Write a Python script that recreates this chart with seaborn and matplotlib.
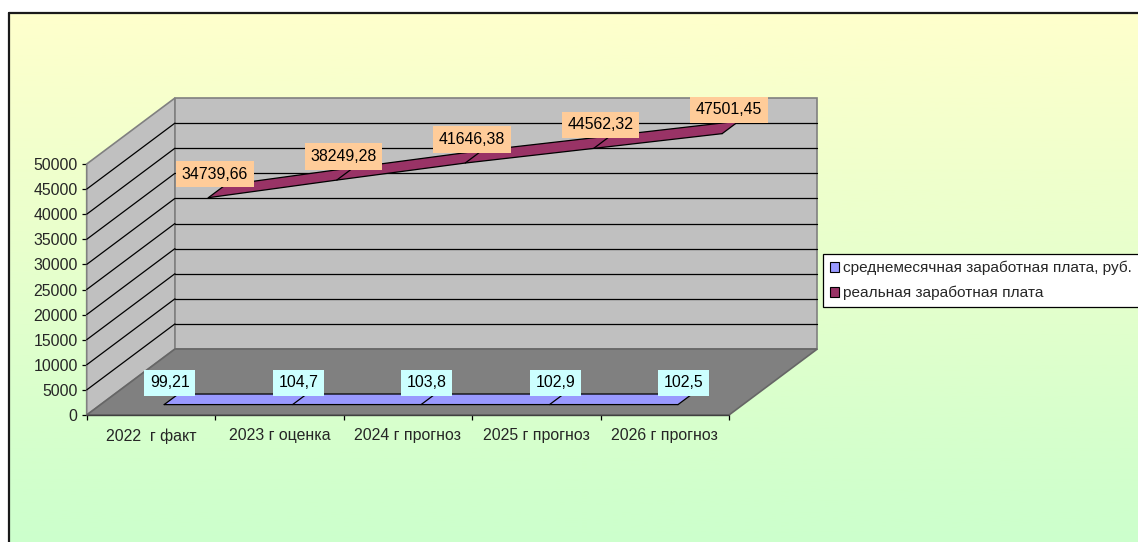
"""
Wage dynamics 2022-2026: pseudo-3D ribbon line chart (Excel look).
"""

import numpy as np
import matplotlib
matplotlib.use("Agg")
import matplotlib.pyplot as plt
import seaborn as sns
from matplotlib.patches import Polygon, Patch

# Data
categories = ['2022  г факт', '2023 г оценка', '2024 г прогноз', '2025 г прогноз', '2026 г прогноз']
avg_salary = [99.21, 104.7, 103.8, 102.9, 102.5]
real_salary = [34739.66, 38249.28, 41646.38, 44562.32, 47501.45]
series_names = ['среднемесячная заработная плата, руб.', 'реальная заработная плата']
y_ticks = [0, 5000, 10000, 15000, 20000, 25000, 30000, 35000, 40000, 45000, 50000]

sns.set_theme(style="white")
plt.rcParams['font.family'] = ['Liberation Sans', 'DejaVu Sans']
FS = 11.4

W, H = 1138, 542
fig = plt.figure(figsize=(W / 100, H / 100), dpi=100)

# background gradient + frame
bg = fig.add_axes([0, 0, 1, 1], zorder=-10)
grad = np.linspace(0, 1, 256).reshape(-1, 1)
top = np.array([1.0, 1.0, 0.8])
bot = np.array([0.8, 1.0, 0.8])
img = top[None, None, :] * (1 - grad[:, :, None]) + bot[None, None, :] * grad[:, :, None]
bg.imshow(img, extent=[10, W, 0, H - 13], aspect='auto', origin='upper')
bg.plot([9.5, 9.5], [0, H - 12.5], color='#1a1a1a', lw=1.6)
bg.plot([9, W], [H - 12.5, H - 12.5], color='#1a1a1a', lw=1.6)
bg.set_xlim(0, W)
bg.set_ylim(0, H)
bg.axis('off')

# front plane of the chart in pixel geometry
ax = fig.add_axes([86.7 / W, (H - 415) / H, 642.3 / W, 251 / H])
ax.set_facecolor('none')
for s in ax.spines.values():
    s.set_visible(False)

n = len(categories)
x = np.arange(n)
YMAX = 50000
DX = 88.3 / 128.5          # depth shift in category units
DY = 66 / 251 * YMAX       # depth shift in value units
x0, x1 = -0.5, n - 0.5

wall = '#C0C0C0'
edge = '#808080'

# side wall
ax.add_patch(Polygon([(x0, 0), (x0, YMAX), (x0 + DX, YMAX + DY), (x0 + DX, DY)],
                     closed=True, facecolor=wall, edgecolor=edge, lw=1.2, clip_on=False, zorder=1))
# back wall
ax.add_patch(Polygon([(x0 + DX, DY), (x0 + DX, YMAX + DY), (x1 + DX, YMAX + DY), (x1 + DX, DY)],
                     closed=True, facecolor=wall, edgecolor=edge, lw=1.2, clip_on=False, zorder=1))
# floor
ax.add_patch(Polygon([(x0, 0), (x1, 0), (x1 + DX, DY), (x0 + DX, DY)],
                     closed=True, facecolor='#808080', edgecolor='#666666', lw=1.2, clip_on=False, zorder=1))

# gridlines
for v in y_ticks[1:-1]:
    ax.plot([x0 + DX, x1 + DX], [v + DY, v + DY], color='black', lw=0.9, clip_on=False, zorder=2)
    ax.plot([x0, x0 + DX], [v, v + DY], color='black', lw=0.9, clip_on=False, zorder=2)

# ribbons: (values, color, depth front, depth back, label colour)
ribbons = [
    (real_salary, '#993366', 0.65, 0.84, '#FFCC99'),
    (avg_salary, '#9999FF', 0.15, 0.31, '#CCFFFF'),
]
PAD = 0.36
for vals, col, d1, d2, lab_col in ribbons:
    vals = np.array(vals)
    front = list(zip(x + d1 * DX, vals + d1 * DY))
    back = list(zip(x + d2 * DX, vals + d2 * DY))
    ax.add_patch(Polygon(front + back[::-1], closed=True, facecolor=col, edgecolor='none',
                         clip_on=False, zorder=3))
    for d in (d1, d2):
        sns.lineplot(x=x + d * DX, y=vals + d * DY, color='black', lw=0.9, ax=ax,
                     clip_on=False, zorder=4, legend=False)
    for i in range(n):
        ax.plot([x[i] + d1 * DX, x[i] + d2 * DX], [vals[i] + d1 * DY, vals[i] + d2 * DY],
                color='black', lw=0.9, clip_on=False, zorder=4)
    dm = d1 + 0.4 * (d2 - d1)
    for i in range(n):
        ax.annotate(str(vals[i]).replace('.', ','), (x[i] + dm * DX, vals[i] + d2 * DY),
                    xytext=(0, PAD * FS - 1.5), textcoords='offset points', ha='center', va='bottom',
                    fontsize=FS, color='black', zorder=6, annotation_clip=False,
                    bbox=dict(boxstyle=f'square,pad={PAD}', facecolor=lab_col, edgecolor='none'))

ax.set_xlim(x0, x1)
ax.set_ylim(0, YMAX)

# axes ticks
ax.set_yticks(y_ticks)
ax.set_yticklabels([str(t) for t in y_ticks], fontsize=FS)
ax.tick_params(axis='y', direction='out', length=3.5, width=0.9, color='black', pad=3, left=True)
ax.set_xticks(np.arange(n + 1) - 0.5)
ax.set_xticklabels([])
ax.set_xticks(x, minor=True)
ax.set_xticklabels(categories, minor=True, fontsize=FS)
ax.tick_params(axis='x', which='major', direction='out', length=3.5, width=0.9, color='black', bottom=True)
ax.tick_params(axis='x', which='minor', length=0, pad=9.5)
ax.plot([x0, x1], [0, 0], color='#404040', lw=1.0, clip_on=False, zorder=2)

# legend
handles = [Patch(facecolor='#9999FF', edgecolor='black', lw=0.8),
           Patch(facecolor='#993366', edgecolor='black', lw=0.8)]
leg = fig.legend(handles, series_names, loc='upper left', bbox_to_anchor=(823 / W, 1 - 254 / H),
                 fontsize=11.1, frameon=True, fancybox=False, framealpha=1, edgecolor='black',
                 handlelength=0.6, handleheight=0.6, handletextpad=0.25, labelspacing=0.68,
                 borderpad=0.45, borderaxespad=0)
leg.get_frame().set_linewidth(0.9)

plt.savefig('out.png', dpi=100)
